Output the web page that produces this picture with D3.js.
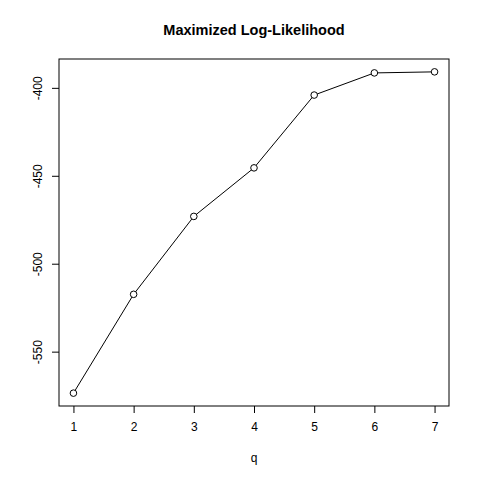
<!DOCTYPE html>
<meta charset="utf-8">
<style>
body { margin: 0; background: #fff; }
text { font-family: "Liberation Sans", Arial, sans-serif; fill: #000; }
.axis path, .axis line { stroke: #000; }
</style>
<svg width="480" height="480"></svg>
<script src="https://d3js.org/d3.v7.min.js"></script>
<script>

var q = [1, 2, 3, 4, 5, 6, 7];
var loglik = [-573.6, -517.4, -473.1, -445.5, -404.1, -391.5, -390.9];
var xTicks = [1, 2, 3, 4, 5, 6, 7];
var yTicks = [-550, -500, -450, -400];

var svg = d3.select("svg"),
    plotL = 59, plotR = 449, plotT = 59, plotB = 406;

// R style 4% padding
function padded(ext) {
  var d = (ext[1] - ext[0]) * 0.04;
  return [ext[0] - d, ext[1] + d];
}

var x = d3.scaleLinear().domain(padded(d3.extent(q))).range([plotL, plotR]);
var y = d3.scaleLinear().domain(padded(d3.extent(loglik))).range([plotB, plotT]);

svg.append("rect")
    .attr("x", plotL).attr("y", plotT)
    .attr("width", plotR - plotL).attr("height", plotB - plotT)
    .attr("fill", "none").attr("stroke", "#000");

var xAxis = svg.append("g")
    .attr("class", "axis")
    .attr("transform", "translate(0," + plotB + ")")
    .call(d3.axisBottom(x).tickValues(xTicks).tickSize(7).tickPadding(9).tickFormat(String));
xAxis.select(".domain").remove();
xAxis.selectAll("text").style("font-size", "12px");

var yAxis = svg.append("g")
    .attr("class", "axis")
    .attr("transform", "translate(" + plotL + ",0)")
    .call(d3.axisLeft(y).tickValues(yTicks).tickSize(7).tickFormat(String));
yAxis.select(".domain").remove();
yAxis.selectAll(".tick text")
    .style("font-size", "12px")
    .attr("x", null).attr("dy", null)
    .attr("text-anchor", "middle")
    .attr("transform", "translate(-17,0) rotate(-90)");

var pts = q.map(function(d, i) { return [d, loglik[i]]; });

svg.append("path")
    .datum(pts)
    .attr("fill", "none")
    .attr("stroke", "#000")
    .attr("d", d3.line().x(function(d) { return x(d[0]); }).y(function(d) { return y(d[1]); }));

svg.selectAll(".pt")
    .data(pts)
    .enter().append("circle")
    .attr("cx", function(d) { return x(d[0]); })
    .attr("cy", function(d) { return y(d[1]); })
    .attr("r", 3.3)
    .attr("fill", "#fff")
    .attr("stroke", "#000");

svg.append("text")
    .attr("x", (plotL + plotR) / 2).attr("y", 35)
    .attr("text-anchor", "middle")
    .style("font-size", "14.5px").style("font-weight", "bold")
    .text("Maximized Log-Likelihood");

svg.append("text")
    .attr("x", (plotL + plotR) / 2).attr("y", 462)
    .attr("text-anchor", "middle")
    .style("font-size", "12px")
    .text("q");

</script>
